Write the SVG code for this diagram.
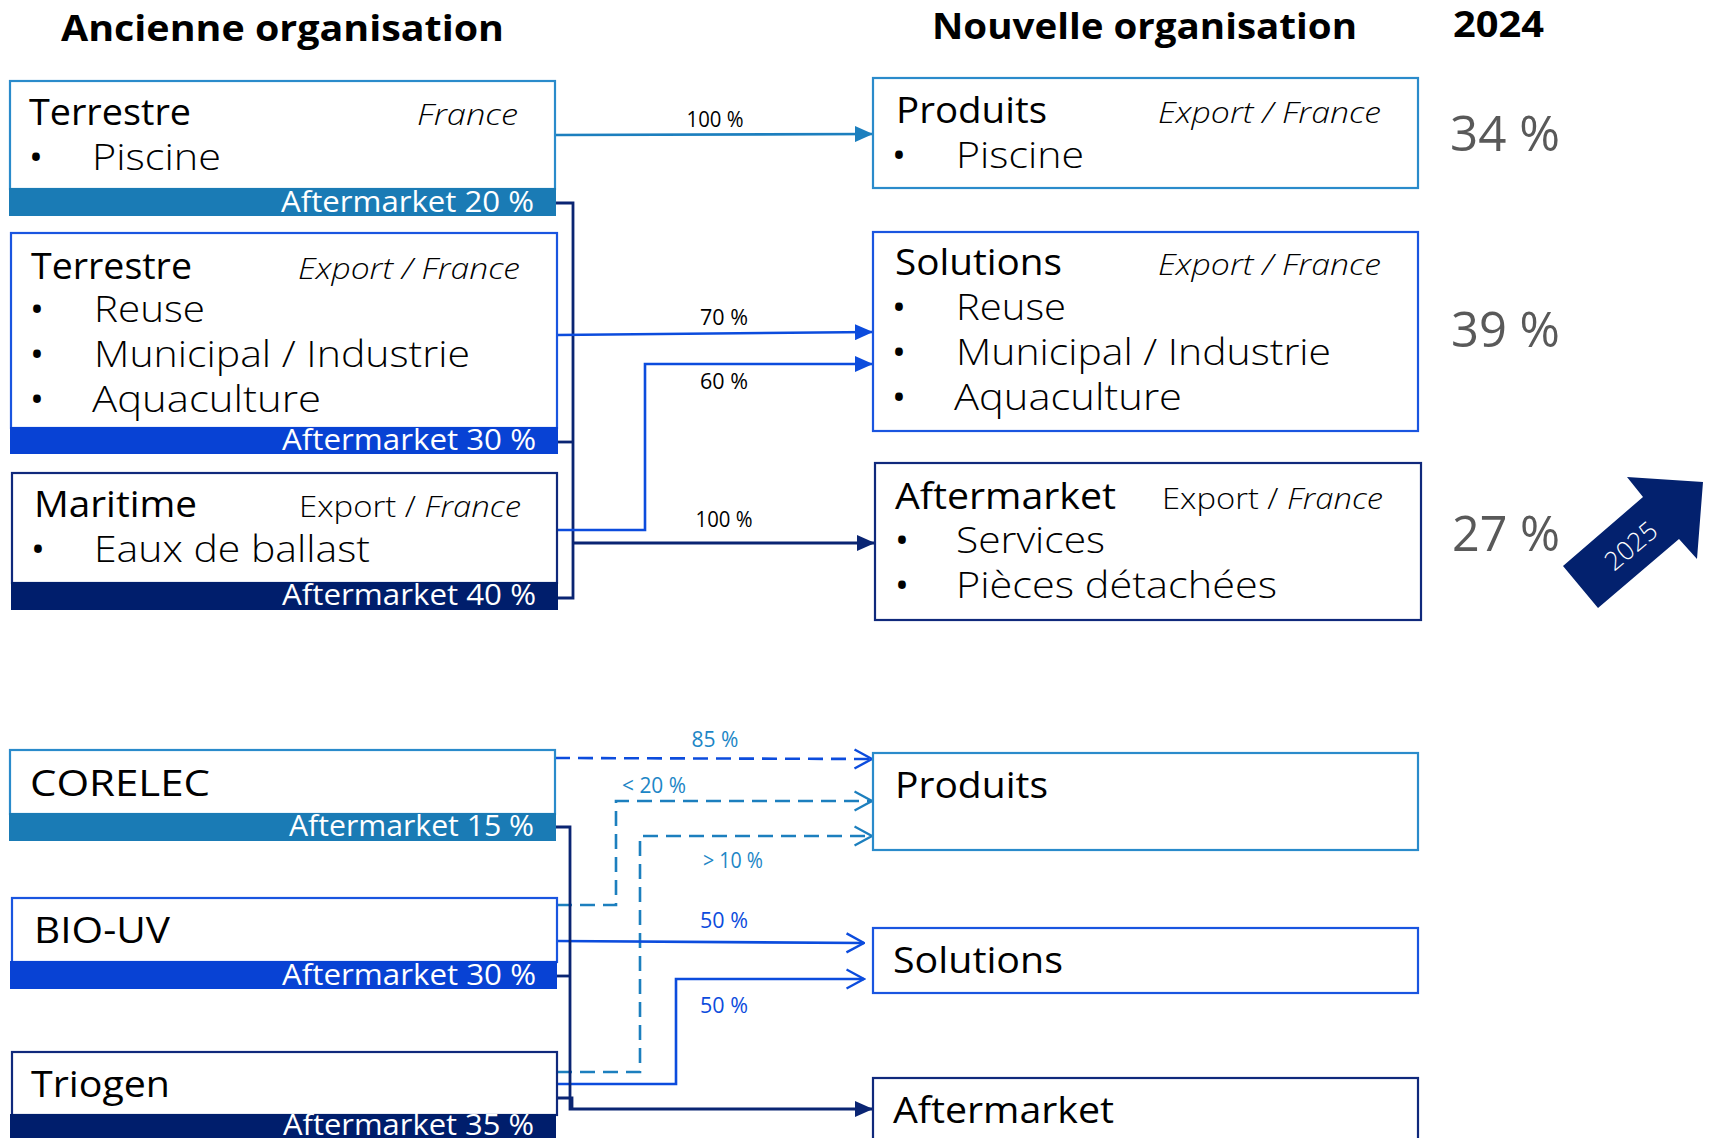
<svg xmlns="http://www.w3.org/2000/svg" width="1716" height="1138" viewBox="0 0 1716 1138">
<style>
text { font-family: 'Open Sans', 'Liberation Sans', sans-serif; }
.hdr { font-size: 36px; font-weight: 700; fill: #000; }
.name { font-size: 37px; font-weight: 400; fill: #000; }
.item { font-size: 37px; font-weight: 300; fill: #000; }
.bul { font-size: 37px; font-weight: 400; fill: #000; text-anchor: middle; }
.reg { font-size: 30px; font-weight: 300; fill: #000; text-anchor: end; }
.it { font-style: italic; }
.bar { font-size: 30px; font-weight: 400; fill: #fff; text-anchor: end; }
.pct { font-size: 21px; font-weight: 500; fill: #000; text-anchor: middle; }
.big { font-size: 50px; font-weight: 400; fill: #595959; }
.bxLB { fill: #fff; stroke: #2A8BCB; stroke-width: 2.2; }
.bxBB { fill: #fff; stroke: #1A55E0; stroke-width: 2.2; }
.bxNV { fill: #fff; stroke: #10297C; stroke-width: 2.2; }
.fLB { fill: #1A7BB5; }
.fBB { fill: #0842D4; }
.fNV { fill: #001E6C; }
.cLB { fill: none; stroke: #1C7FBE; stroke-width: 2.6; }
.cBB { fill: none; stroke: #0C4CDD; stroke-width: 2.6; }
.cNV { fill: none; stroke: #0A2573; stroke-width: 2.8; }
.dash { stroke-dasharray: 15 8; }
</style>
<defs>
<marker id="mLB" viewBox="0 0 18 16" refX="18" refY="8" markerWidth="18" markerHeight="16" orient="auto" markerUnits="userSpaceOnUse"><path d="M0,0 L18,8 L0,16 Z" fill="#1C7FBE"/></marker>
<marker id="mBB" viewBox="0 0 18 16" refX="18" refY="8" markerWidth="18" markerHeight="16" orient="auto" markerUnits="userSpaceOnUse"><path d="M0,0 L18,8 L0,16 Z" fill="#0C4CDD"/></marker>
<marker id="mNV" viewBox="0 0 18 16" refX="18" refY="8" markerWidth="18" markerHeight="16" orient="auto" markerUnits="userSpaceOnUse"><path d="M0,0 L18,8 L0,16 Z" fill="#0A2573"/></marker>
<marker id="oBB" viewBox="0 0 20 22" refX="18.5" refY="11" markerWidth="20" markerHeight="22" orient="auto" markerUnits="userSpaceOnUse"><path d="M1,1.5 L18.5,11 L1,20.5" fill="none" stroke="#0C4CDD" stroke-width="2.4"/></marker>
<marker id="oLB" viewBox="0 0 20 22" refX="18.5" refY="11" markerWidth="20" markerHeight="22" orient="auto" markerUnits="userSpaceOnUse"><path d="M1,1.5 L18.5,11 L1,20.5" fill="none" stroke="#1C7FBE" stroke-width="2.4"/></marker>
</defs>
<rect x="0" y="0" width="1716" height="1138" fill="#fff"/>

<g id="headers">
<text class="hdr" x="61" y="41" textLength="443" lengthAdjust="spacingAndGlyphs">Ancienne organisation</text>
<text class="hdr" x="932" y="39" textLength="425" lengthAdjust="spacingAndGlyphs">Nouvelle organisation</text>
<text class="hdr" x="1453" y="37" textLength="91" lengthAdjust="spacingAndGlyphs">2024</text>
</g>

<g id="connectors">
<path class="cLB" d="M555,135 L873,134" marker-end="url(#mLB)"/>
<path class="cNV" d="M555,203 H573 V598 H557"/>
<path class="cNV" d="M557,442 H573"/>
<path class="cNV" d="M573,543 H875" marker-end="url(#mNV)"/>
<path class="cBB" d="M557,335 L873,332" marker-end="url(#mBB)"/>
<path class="cBB" d="M557,530 H645 V364 H873" marker-end="url(#mBB)"/>
<text class="pct" x="715" y="127" textLength="57" lengthAdjust="spacingAndGlyphs">100 %</text>
<text class="pct" x="724" y="325" textLength="48" lengthAdjust="spacingAndGlyphs">70 %</text>
<text class="pct" x="724" y="389" textLength="48" lengthAdjust="spacingAndGlyphs">60 %</text>
<text class="pct" x="724" y="527" textLength="57" lengthAdjust="spacingAndGlyphs">100 %</text>

<path class="cBB dash" d="M555,758 L872,759" marker-end="url(#oBB)"/>
<path class="cLB dash" d="M557,905 H616 V801 H872" marker-end="url(#oLB)"/>
<path class="cLB dash" d="M557,1072 H640 V836 H872" marker-end="url(#oLB)"/>
<path class="cBB" d="M557,941 L864,943" marker-end="url(#oBB)"/>
<path class="cBB" d="M557,1084 H676 V979 H864" marker-end="url(#oBB)"/>
<path class="cNV" d="M555,827 H570 V1109 H873" marker-end="url(#mNV)"/>
<path class="cNV" d="M557,976 H570"/>
<path class="cNV" d="M557,1098 H572 V1109"/>
<text class="pct" x="715" y="747" style="fill:#1C86C6" textLength="47" lengthAdjust="spacingAndGlyphs">85 %</text>
<text class="pct" x="654" y="793" style="fill:#1C86C6" textLength="64" lengthAdjust="spacingAndGlyphs">&lt; 20 %</text>
<text class="pct" x="733" y="868" style="fill:#1C86C6" textLength="60" lengthAdjust="spacingAndGlyphs">&gt; 10 %</text>
<text class="pct" x="724" y="928" style="fill:#0C4CDD" textLength="48" lengthAdjust="spacingAndGlyphs">50 %</text>
<text class="pct" x="724" y="1013" style="fill:#0C4CDD" textLength="48" lengthAdjust="spacingAndGlyphs">50 %</text>
</g>

<g id="old-terrestre-france">
<rect class="bxLB" x="10" y="81" width="545" height="108"/>
<rect class="fLB" x="9" y="188" width="547" height="28"/>
<text class="name" x="29" y="125" textLength="162" lengthAdjust="spacingAndGlyphs">Terrestre</text>
<text class="reg it" x="518" y="125" textLength="101" lengthAdjust="spacingAndGlyphs">France</text>
<text class="bul" x="36" y="170">•</text>
<text class="item" x="92" y="170" textLength="129" lengthAdjust="spacingAndGlyphs">Piscine</text>
<text class="bar" x="534" y="212" textLength="253" lengthAdjust="spacingAndGlyphs">Aftermarket 20 %</text>
</g>

<g id="old-terrestre-export">
<rect class="bxBB" x="11" y="233" width="546" height="195"/>
<rect class="fBB" x="10" y="427" width="548" height="27"/>
<text class="name" x="31" y="279" textLength="161" lengthAdjust="spacingAndGlyphs">Terrestre</text>
<text class="reg it" x="520" y="279" textLength="222" lengthAdjust="spacingAndGlyphs">Export / France</text>
<text class="bul" x="37" y="322">•</text>
<text class="item" x="94" y="322" textLength="111" lengthAdjust="spacingAndGlyphs">Reuse</text>
<text class="bul" x="37" y="367">•</text>
<text class="item" x="94" y="367" textLength="376" lengthAdjust="spacingAndGlyphs">Municipal / Industrie</text>
<text class="bul" x="37" y="412">•</text>
<text class="item" x="92" y="412" textLength="229" lengthAdjust="spacingAndGlyphs">Aquaculture</text>
<text class="bar" x="536" y="450" textLength="254" lengthAdjust="spacingAndGlyphs">Aftermarket 30 %</text>
</g>

<g id="old-maritime">
<rect class="bxNV" x="12" y="473" width="545" height="110"/>
<rect class="fNV" x="11" y="582" width="547" height="28"/>
<text class="name" x="34" y="517" textLength="163" lengthAdjust="spacingAndGlyphs">Maritime</text>
<text class="reg" x="521" y="517" textLength="222" lengthAdjust="spacingAndGlyphs">Export / <tspan class="it">France</tspan></text>
<text class="bul" x="38" y="562">•</text>
<text class="item" x="94" y="562" textLength="276" lengthAdjust="spacingAndGlyphs">Eaux de ballast</text>
<text class="bar" x="536" y="605" textLength="254" lengthAdjust="spacingAndGlyphs">Aftermarket 40 %</text>
</g>

<g id="new-produits">
<rect class="bxLB" x="873" y="78" width="545" height="110"/>
<text class="name" x="896" y="123" textLength="151" lengthAdjust="spacingAndGlyphs">Produits</text>
<text class="reg it" x="1381" y="123" textLength="223" lengthAdjust="spacingAndGlyphs">Export / France</text>
<text class="bul" x="899" y="168">•</text>
<text class="item" x="956" y="168" textLength="128" lengthAdjust="spacingAndGlyphs">Piscine</text>
</g>

<g id="new-solutions">
<rect class="bxBB" x="873" y="232" width="545" height="199"/>
<text class="name" x="895" y="275" textLength="167" lengthAdjust="spacingAndGlyphs">Solutions</text>
<text class="reg it" x="1381" y="275" textLength="223" lengthAdjust="spacingAndGlyphs">Export / France</text>
<text class="bul" x="899" y="320">•</text>
<text class="item" x="956" y="320" textLength="110" lengthAdjust="spacingAndGlyphs">Reuse</text>
<text class="bul" x="899" y="365">•</text>
<text class="item" x="956" y="365" textLength="375" lengthAdjust="spacingAndGlyphs">Municipal / Industrie</text>
<text class="bul" x="899" y="410">•</text>
<text class="item" x="954" y="410" textLength="228" lengthAdjust="spacingAndGlyphs">Aquaculture</text>
</g>

<g id="new-aftermarket">
<rect class="bxNV" x="875" y="463" width="546" height="157"/>
<text class="name" x="895" y="509" textLength="221" lengthAdjust="spacingAndGlyphs">Aftermarket</text>
<text class="reg" x="1383" y="509" textLength="221" lengthAdjust="spacingAndGlyphs">Export / <tspan class="it">France</tspan></text>
<text class="bul" x="902" y="553">•</text>
<text class="item" x="956" y="553" textLength="149" lengthAdjust="spacingAndGlyphs">Services</text>
<text class="bul" x="902" y="598">•</text>
<text class="item" x="956" y="598" textLength="321" lengthAdjust="spacingAndGlyphs">Pièces détachées</text>
</g>

<g id="shares-2024">
<text class="big" x="1450" y="151" textLength="110" lengthAdjust="spacingAndGlyphs">34 %</text>
<text class="big" x="1451" y="347" textLength="109" lengthAdjust="spacingAndGlyphs">39 %</text>
<text class="big" x="1452" y="551" textLength="108" lengthAdjust="spacingAndGlyphs">27 %</text>
</g>

<g id="arrow-2025">
<polygon points="1563,566 1643,497 1627,477 1703,482 1697,559 1679,539 1598,608" fill="#03216E"/>
<text x="0" y="0" transform="translate(1631,546) rotate(-40)" text-anchor="middle" dy="9" style="font-size:26px;font-weight:300;fill:#fff">2025</text>
</g>

<g id="old-corelec">
<rect class="bxLB" x="10" y="750" width="545" height="64"/>
<rect class="fLB" x="9" y="813" width="547" height="28"/>
<text class="name" x="30" y="796" textLength="180" lengthAdjust="spacingAndGlyphs">CORELEC</text>
<text class="bar" x="534" y="836" textLength="245" lengthAdjust="spacingAndGlyphs">Aftermarket 15 %</text>
</g>

<g id="old-biouv">
<rect class="bxBB" x="12" y="898" width="545" height="64"/>
<rect class="fBB" x="10" y="961" width="547" height="28"/>
<text class="name" x="34" y="943" textLength="136" lengthAdjust="spacingAndGlyphs">BIO-UV</text>
<text class="bar" x="536" y="985" textLength="254" lengthAdjust="spacingAndGlyphs">Aftermarket 30 %</text>
</g>

<g id="old-triogen">
<rect class="bxNV" x="12" y="1052" width="545" height="63"/>
<rect class="fNV" x="10" y="1114" width="546" height="30"/>
<text class="name" x="31" y="1097" textLength="139" lengthAdjust="spacingAndGlyphs">Triogen</text>
<text class="bar" x="534" y="1135" textLength="251" lengthAdjust="spacingAndGlyphs">Aftermarket 35 %</text>
</g>

<g id="new2-produits">
<rect class="bxLB" x="873" y="753" width="545" height="97"/>
<text class="name" x="895" y="798" textLength="153" lengthAdjust="spacingAndGlyphs">Produits</text>
</g>
<g id="new2-solutions">
<rect class="bxBB" x="873" y="928" width="545" height="65"/>
<text class="name" x="893" y="973" textLength="170" lengthAdjust="spacingAndGlyphs">Solutions</text>
</g>
<g id="new2-aftermarket">
<rect class="bxNV" x="873" y="1078" width="545" height="80"/>
<text class="name" x="893" y="1123" textLength="221" lengthAdjust="spacingAndGlyphs">Aftermarket</text>
</g>
</svg>
